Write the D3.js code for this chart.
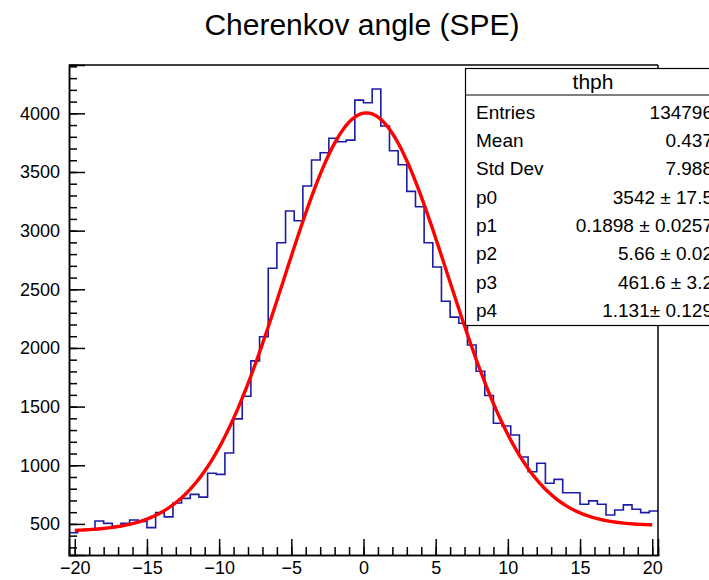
<!DOCTYPE html>
<html>
<head>
<meta charset="utf-8">
<script src="https://cdn.jsdelivr.net/npm/d3@7"></script>
<style>
body { margin: 0; background: #fff; }
text { font-family: "Liberation Sans", Arial, Helvetica, sans-serif; fill: #000; }
</style>
</head>
<body>
<script>
// histogram thph : 68 bins from -20.4 to 20.4
var histRange = [-20.4, 20.4];
var counts = [425, 450, 458, 525, 505, 478, 505, 534, 522, 468,
              596, 560, 678, 718, 752, 728, 932, 922, 1105, 1395,
              1588, 1890, 2096, 2680, 2897, 3168, 3084, 3380, 3602, 3664,
              3787, 3758, 3772, 4113, 4090, 4207, 3892, 3681, 3562, 3335,
              3204, 2897, 2690, 2398, 2263, 2210, 2025, 1802, 1595, 1358,
              1335, 1258, 1070, 945, 1017, 846, 880, 766, 766, 667,
              696, 667, 576, 619, 662, 625, 596, 610];

var xTicks = [-20, -15, -10, -5, 0, 5, 10, 15, 20];
var yTicks = [500, 1000, 1500, 2000, 2500, 3000, 3500, 4000];

// gaus(0) + pol1(3) fit, parameters from the stats box
var fitPars = [3542, 0.1898, 5.66, 461.6, 1.131];
var fitRange = [-20, 20];

var statTitle = "thph";
var statNames = ["Entries", "Mean", "Std Dev", "p0", "p1", "p2", "p3", "p4"];
var statValues = ["134796", "0.437", "7.988", "3542 \u00b1 17.5", "0.1898 \u00b1 0.0257",
                  "5.66 \u00b1 0.02", "461.6 \u00b1 3.2", "1.131\u00b1 0.129"];

var width = 709, height = 580;
var frame = {left: 69, right: 658, top: 65, bottom: 555};

var svg = d3.select("body")
    .append("svg")
        .attr("width", width)
        .attr("height", height);

var x = d3.scaleLinear()
    .domain(histRange)
    .range([frame.left, frame.right]);

var y = d3.scaleLinear()
    .domain([235, 4412])
    .range([frame.bottom, frame.top]);

// title
svg.append("text")
    .text("Cherenkov angle (SPE)")
    .attr("x", 362)
    .attr("y", 35)
    .attr("text-anchor", "middle")
    .attr("font-size", "30px");

// histogram outline
var binWidth = (histRange[1] - histRange[0]) / counts.length;
var steps = [];
counts.forEach(function(c, i){
    steps.push([histRange[0] + i*binWidth, c]);
    steps.push([histRange[0] + (i+1)*binWidth, c]);
});

svg.append("path")
    .datum(steps)
    .attr("fill", "none")
    .attr("stroke", "#1c1ca6")
    .attr("stroke-width", 1.6)
    .attr("d", d3.line()
        .x(function(d){ return x(d[0]); })
        .y(function(d){ return y(d[1]); }));

// fit function
var fitPts = d3.range(0, 201).map(function(i){
    var xv = fitRange[0] + (fitRange[1]-fitRange[0])*i/200;
    var g = (xv - fitPars[1]) / fitPars[2];
    return [xv, fitPars[0]*Math.exp(-0.5*g*g) + fitPars[3] + fitPars[4]*xv];
});

svg.append("path")
    .datum(fitPts)
    .attr("fill", "none")
    .attr("stroke", "#ff0000")
    .attr("stroke-width", 3.4)
    .attr("stroke-linejoin", "round")
    .attr("d", d3.line()
        .x(function(d){ return x(d[0]); })
        .y(function(d){ return y(d[1]); }));

// axes, ticks drawn inside the frame like ROOT
var xMinor = d3.range(-20, 21, 1);
var yMinor = d3.range(300, 4401, 100);

svg.append("g")
    .attr("transform", "translate(0," + frame.bottom + ")")
    .call(d3.axisBottom(x).tickValues(xMinor).tickSize(-8).tickFormat(""));

svg.append("g")
    .attr("class", "xaxis")
    .attr("transform", "translate(0," + frame.bottom + ")")
    .call(d3.axisBottom(x).tickValues(xTicks).tickSize(-16).tickPadding(6)
        .tickFormat(d3.format("d")));

svg.append("g")
    .attr("transform", "translate(" + frame.left + ",0)")
    .call(d3.axisLeft(y).tickValues(yMinor).tickSize(-8).tickFormat(""));

svg.append("g")
    .attr("class", "yaxis")
    .attr("transform", "translate(" + frame.left + ",0)")
    .call(d3.axisLeft(y).tickValues(yTicks).tickSize(-16).tickPadding(9)
        .tickFormat(d3.format("d")));

svg.selectAll(".domain").attr("stroke", "#000").attr("stroke-width", 1.5);
svg.selectAll(".tick line").attr("stroke", "#000").attr("stroke-width", 1.5);
svg.selectAll(".xaxis text, .yaxis text")
    .attr("font-size", "18px")
    .attr("font-family", "'Liberation Sans', Arial, sans-serif")
    .style("fill", "#000");

// frame top and right
svg.append("line")
    .attr("x1", frame.left).attr("x2", frame.right)
    .attr("y1", frame.top).attr("y2", frame.top)
    .attr("stroke", "#000").attr("stroke-width", 1.5);
svg.append("line")
    .attr("x1", frame.right).attr("x2", frame.right)
    .attr("y1", frame.top).attr("y2", frame.bottom)
    .attr("stroke", "#000").attr("stroke-width", 1.5);

// stats box (runs past the right edge of the canvas, as in the original)
var box = {left: 465.5, top: 68.5, bottom: 325.5, right: 730, titleLine: 95};
var rowStep = 28.35;

svg.append("rect")
    .attr("x", box.left)
    .attr("y", box.top)
    .attr("width", box.right - box.left)
    .attr("height", box.bottom - box.top)
    .attr("fill", "#fff")
    .attr("stroke", "#000")
    .attr("stroke-width", 1.2);

svg.append("line")
    .attr("x1", box.left).attr("x2", box.right)
    .attr("y1", box.titleLine).attr("y2", box.titleLine)
    .attr("stroke", "#000").attr("stroke-width", 1.2);

svg.append("text")
    .text(statTitle)
    .attr("x", 593)
    .attr("y", 89)
    .attr("text-anchor", "middle")
    .attr("font-size", "21px");

statNames.forEach(function(d, i){
    svg.append("text")
        .text(d)
        .attr("x", 476)
        .attr("y", 118.5 + i*rowStep)
        .attr("font-size", "19px");
    svg.append("text")
        .text(statValues[i])
        .attr("x", 713)
        .attr("y", 118.5 + i*rowStep)
        .attr("text-anchor", "end")
        .attr("font-size", "19px");
});
</script>
</body>
</html>
